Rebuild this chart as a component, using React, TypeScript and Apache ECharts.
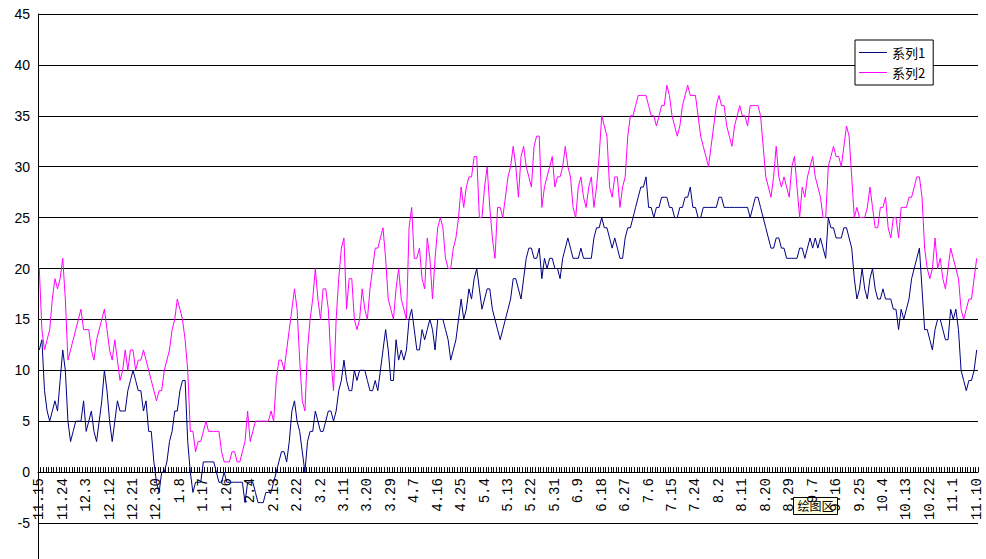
import React, { useEffect, useRef } from "react";
import * as echarts from "echarts";

// ---- categories: daily dates from 11.15, one late-October day absent in the source ----
const START_DATE = "2007-11-15";
const POINT_COUNT = 361;
const MISSING_DATES = ["10.27"];
const LABEL_EVERY = 9;

// ---- y axis ----
const Y_MIN = -10;
const Y_MAX = 45;
const Y_STEP = 5;

// ---- series values (one per day) ----
const series1Name = "系列1";
const series2Name = "系列2";

const series1: number[] = [
  12, 13, 8, 6, 5, 6, 7, 6, 9,
  12, 10, 5, 3, 4, 5, 5, 5, 7,
  4, 5, 6, 4, 3, 5, 7, 10, 8,
  5, 3, 5, 7, 6, 6, 6, 8, 9,
  10, 9, 8, 8, 6, 7, 4, 4, 1,
  -1, -2, 0, 0, 1, 3, 4, 6, 6,
  8, 9, 9, 3, 0, -2, -1, -1, -1,
  1, 1, 1, 1, 1, 0, -1, -1, 0,
  -1, -1, -1, -1, -1, -1, -1, -3, -1,
  -1, -1, -2, -3, -3, -3, -2, -2, -2,
  -1, 0, 1, 2, 2, 1, 3, 6, 7,
  5, 4, 2, 0, 3, 4, 4, 6, 5,
  4, 4, 5, 6, 6, 5, 6, 8, 9,
  11, 9, 8, 8, 10, 9, 10, 10, 10,
  9, 8, 8, 9, 8, 10, 12, 14, 12,
  9, 9, 13, 11, 12, 11, 12, 15, 16,
  14, 12, 12, 14, 13, 14, 15, 14, 12,
  15, 15, 15, 14, 13, 11, 12, 13, 15,
  17, 15, 16, 18, 17, 19, 20, 18, 16,
  17, 18, 18, 16, 15, 14, 13, 14, 15,
  16, 17, 19, 19, 18, 17, 19, 21, 22,
  22, 21, 21, 22, 19, 21, 20, 21, 21,
  20, 20, 19, 21, 22, 23, 22, 21, 21,
  21, 22, 21, 21, 21, 21, 23, 24, 24,
  25, 24, 24, 23, 22, 23, 22, 21, 21,
  23, 24, 24, 25, 26, 27, 28, 28, 29,
  26, 26, 25, 26, 26, 27, 27, 27, 26,
  26, 25, 25, 26, 26, 27, 27, 28, 26,
  26, 25, 25, 26, 26, 26, 26, 26, 26,
  27, 27, 26, 26, 26, 26, 26, 26, 26,
  26, 26, 26, 25, 26, 27, 27, 26, 25,
  24, 23, 22, 22, 23, 23, 22, 22, 21,
  21, 21, 21, 21, 22, 22, 21, 22, 23,
  22, 23, 22, 23, 22, 21, 25, 24, 24,
  23, 23, 23, 24, 24, 23, 22, 19, 17,
  18, 20, 18, 17, 19, 20, 18, 17, 17,
  18, 17, 17, 17, 16, 16, 14, 16, 15,
  16, 17, 19, 20, 21, 22, 18, 14, 14,
  13, 12, 14, 15, 15, 14, 13, 13, 16,
  15, 16, 14, 10, 9, 8, 9, 9, 10,
  12,
];

const series2: number[] = [
  20, 14, 12, 13, 14, 17, 19, 18, 19,
  21, 17, 11, 12, 13, 14, 15, 16, 14,
  14, 14, 12, 11, 13, 14, 15, 16, 14,
  12, 11, 13, 11, 9, 10, 12, 10, 12,
  12, 10, 11, 11, 12, 11, 10, 9, 8,
  7, 8, 8, 10, 11, 12, 14, 15, 17,
  16, 15, 13, 10, 4, 4, 2, 3, 3,
  4, 5, 4, 4, 4, 4, 4, 2, 1,
  1, 1, 2, 2, 1, 1, 2, 3, 6,
  3, 4, 5, 5, 5, 5, 5, 5, 6,
  5, 9, 11, 11, 10, 12, 14, 16, 18,
  16, 11, 7, 6, 12, 15, 17, 20, 17,
  15, 18, 18, 16, 11, 8, 15, 19, 22,
  23, 16, 19, 19, 15, 14, 15, 18, 16,
  15, 18, 20, 22, 22, 23, 24, 21, 17,
  16, 15, 18, 20, 17, 16, 15, 24, 26,
  21, 21, 22, 19, 18, 23, 21, 17, 21,
  24, 25, 24, 21, 20, 20, 22, 23, 25,
  28, 26, 28, 29, 29, 31, 31, 25, 25,
  28, 30, 26, 23, 21, 26, 26, 25, 27,
  29, 30, 32, 30, 27, 31, 32, 30, 29,
  28, 32, 33, 33, 26, 28, 29, 30, 31,
  28, 29, 29, 30, 32, 30, 29, 26, 25,
  28, 29, 27, 26, 28, 29, 26, 28, 31,
  35, 34, 33, 28, 27, 29, 29, 26, 28,
  29, 33, 35, 35, 36, 37, 37, 37, 37,
  36, 35, 35, 34, 35, 36, 36, 38, 37,
  35, 34, 33, 34, 36, 37, 38, 37, 37,
  37, 35, 33, 32, 31, 30, 32, 34, 36,
  37, 36, 36, 34, 33, 32, 34, 35, 36,
  35, 35, 34, 36, 36, 36, 36, 35, 32,
  29, 28, 27, 29, 32, 29, 28, 29, 28,
  27, 30, 31, 28, 25, 28, 27, 29, 30,
  31, 29, 28, 27, 25, 25, 30, 31, 32,
  31, 31, 30, 32, 34, 33, 29, 25, 26,
  25, 25, 25, 26, 28, 26, 24, 24, 26,
  26, 27, 24, 23, 25, 25, 23, 26, 26,
  26, 27, 27, 28, 29, 29, 27, 22, 20,
  19, 20, 23, 20, 21, 19, 18, 20, 22,
  21, 20, 19, 16, 15, 16, 17, 17, 19,
  21,
];

function buildCategories(): string[] {
  const out: string[] = [];
  const dt = new Date(START_DATE + "T00:00:00Z");
  while (out.length < POINT_COUNT) {
    const label = `${dt.getUTCMonth() + 1}.${dt.getUTCDate()}`;
    if (!MISSING_DATES.includes(label)) out.push(label);
    dt.setUTCDate(dt.getUTCDate() + 1);
  }
  return out;
}

export default function App() {
  const ref = useRef<HTMLDivElement>(null);

  useEffect(() => {
    if (!ref.current) return;
    const chart = echarts.init(ref.current, undefined, { renderer: "svg" });
    const categories = buildCategories();

    const PLOT_LEFT = 38;
    const PLOT_RIGHT = 8;
    const PLOT_TOP = 14;
    const PX_PER_UNIT = 10.18;
    const plotHeight = (Y_MAX - Y_MIN) * PX_PER_UNIT;
    const zeroHeight = (Y_MAX - 0) * PX_PER_UNIT;

    chart.setOption({
      animation: false,
      backgroundColor: "#ffffff",
      grid: [
        {
          left: PLOT_LEFT,
          right: PLOT_RIGHT,
          top: PLOT_TOP,
          height: plotHeight,
          containLabel: false,
          outerBoundsMode: "none",
        },
        {
          left: PLOT_LEFT,
          right: PLOT_RIGHT,
          top: PLOT_TOP,
          height: zeroHeight,
          containLabel: false,
          outerBoundsMode: "none",
        },
      ],
      legend: {
        data: [series1Name, series2Name],
        orient: "vertical",
        left: 855,
        top: 40,
        icon: "rect",
        itemWidth: 28,
        itemHeight: 1,
        itemGap: 7,
        backgroundColor: "#ffffff",
        borderColor: "#000000",
        borderWidth: 1,
        borderRadius: 0,
        padding: [6, 8, 6, 4],
        textStyle: {
          fontFamily: "Noto Sans CJK SC",
          fontSize: 13,
          color: "#000000",
        },
      },
      xAxis: [
        {
          type: "category",
          gridIndex: 0,
          data: categories,
          boundaryGap: true,
          axisLine: { onZero: true, lineStyle: { color: "#000000", width: 1 } },
          axisTick: {
            show: true,
            interval: 0,
            inside: true,
            length: 5,
            lineStyle: { color: "#000000", width: 1 },
          },
          axisLabel: { show: false },
          splitLine: { show: false },
        },
        {
          type: "category",
          gridIndex: 1,
          data: categories,
          boundaryGap: true,
          axisLine: { show: false },
          axisTick: { show: false },
          axisLabel: {
            interval: LABEL_EVERY - 1,
            rotate: 90,
            margin: 6,
            color: "#000000",
            fontFamily: "Liberation Mono",
            fontSize: 14,
          },
          splitLine: { show: false },
        },
      ],
      yAxis: [
        {
          type: "value",
          gridIndex: 0,
          min: Y_MIN,
          max: Y_MAX,
          interval: Y_STEP,
          axisLine: { show: true, lineStyle: { color: "#000000", width: 1 } },
          axisTick: { show: false },
          axisLabel: {
            margin: 8,
            color: "#000000",
            fontFamily: "Liberation Sans",
            fontSize: 14,
            showMinLabel: false,
          },
          splitLine: { show: true, lineStyle: { color: "#000000", width: 1 } },
        },
        {
          type: "value",
          gridIndex: 1,
          min: 0,
          max: Y_MAX,
          interval: Y_STEP,
          show: false,
        },
      ],
      series: [
        {
          name: series1Name,
          type: "line",
          xAxisIndex: 0,
          yAxisIndex: 0,
          data: series1,
          symbol: "none",
          lineStyle: { color: "#000080", width: 1 },
          itemStyle: { color: "#000080" },
        },
        {
          name: series2Name,
          type: "line",
          xAxisIndex: 0,
          yAxisIndex: 0,
          data: series2,
          symbol: "none",
          lineStyle: { color: "#ff00ff", width: 1 },
          itemStyle: { color: "#ff00ff" },
        },
      ],
      graphic: [
        {
          type: "group",
          left: 793,
          top: 497,
          z: 100,
          children: [
            {
              type: "rect",
              shape: { x: 0, y: 0, width: 44, height: 17 },
              style: { fill: "#ffffe1", stroke: "#000000", lineWidth: 1 },
            },
            {
              type: "text",
              x: 4,
              y: 2,
              style: {
                text: "绘图区",
                fontFamily: "Noto Sans CJK SC",
                fontSize: 12,
                fill: "#000000",
              },
            },
          ],
        },
      ],
    });

    return () => chart.dispose();
  }, []);

  return (
    <div
      ref={ref}
      style={{ position: "absolute", left: 0, top: 0, width: 986, height: 559 }}
    />
  );
}
